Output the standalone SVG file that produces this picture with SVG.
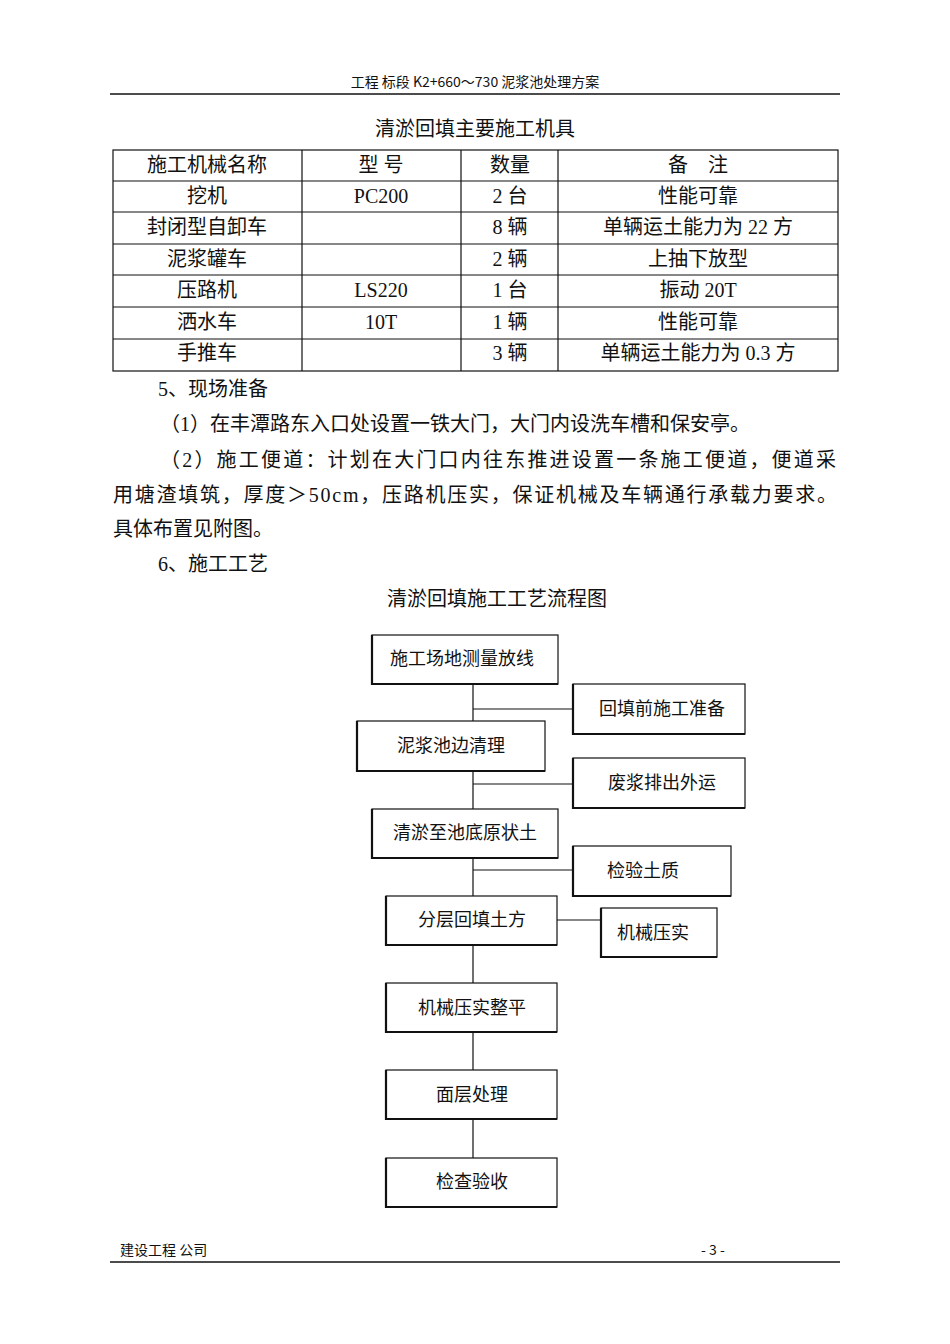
<svg xmlns="http://www.w3.org/2000/svg" width="950" height="1344" viewBox="0 0 950 1344">
<style>
text{font-family:"Liberation Serif","Noto Sans CJK SC",serif;fill:#111}
.t{font-size:20px;text-anchor:middle}
.b{font-size:18px;text-anchor:middle}
.p{font-size:20px}
.h{font-family:"Noto Sans CJK SC",sans-serif;font-size:14px}
.box rect{fill:#fff;stroke:#111;stroke-width:1.2}
.box path{fill:none;stroke:#111;stroke-width:2.2}
.ln{stroke:#111;stroke-width:1.2;fill:none}
</style>
<rect width="950" height="1344" fill="#fff"/>
<text class="h" x="475" y="87" text-anchor="middle">工程 标段 K2+660～730 泥浆池处理方案</text>
<line x1="110" y1="94" x2="840" y2="94" stroke="#111" stroke-width="1.5"/>
<text class="t" x="475" y="136">清淤回填主要施工机具</text>
<g class="ln">
<rect x="113" y="150" width="725" height="221"/>
<path d="M113 181H838M113 212H838M113 244H838M113 275H838M113 307H838M113 339H838M302 150V371M461 150V371M558 150V371"/>
</g>
<g class="t">
<text x="207" y="172">施工机械名称</text><text x="381" y="172">型 号</text><text x="510" y="172">数量</text><text x="698" y="172">备　注</text>
<text x="207" y="203">挖机</text><text x="381" y="203">PC200</text><text x="510" y="203">2 台</text><text x="698" y="203">性能可靠</text>
<text x="207" y="234">封闭型自卸车</text><text x="510" y="234">8 辆</text><text x="698" y="234">单辆运土能力为 22 方</text>
<text x="207" y="266">泥浆罐车</text><text x="510" y="266">2 辆</text><text x="698" y="266">上抽下放型</text>
<text x="207" y="297">压路机</text><text x="381" y="297">LS220</text><text x="510" y="297">1 台</text><text x="698" y="297">振动 20T</text>
<text x="207" y="329">洒水车</text><text x="381" y="329">10T</text><text x="510" y="329">1 辆</text><text x="698" y="329">性能可靠</text>
<text x="207" y="360">手推车</text><text x="510" y="360">3 辆</text><text x="698" y="360">单辆运土能力为 0.3 方</text>
</g>
<text class="p" x="158" y="396">5、现场准备</text>
<text class="p" x="160" y="431">（1）在丰潭路东入口处设置一铁大门，大门内设洗车槽和保安亭。</text>
<text class="p" x="160" y="467" textLength="676">（2）施工便道：计划在大门口内往东推进设置一条施工便道，便道采</text>
<text class="p" x="113" y="502" textLength="724">用塘渣填筑，厚度＞50cm，压路机压实，保证机械及车辆通行承载力要求。</text>
<text class="p" x="113" y="536">具体布置见附图。</text>
<text class="p" x="158" y="571">6、施工工艺</text>
<text class="t" x="497" y="606">清淤回填施工工艺流程图</text>
<g id="connectors" class="ln">
<path d="M473 684V1158M473 709H573M473 784H573M473 870H573M557 920H601"/>
</g>
<g id="n1" class="box"><rect x="372" y="635" width="186" height="49"/><path d="M372 635V684H558"/><text class="b" x="462" y="665">施工场地测量放线</text></g>
<g id="n2" class="box"><rect x="573" y="684" width="172" height="50"/><path d="M573 684V734H745"/><text class="b" x="662" y="715">回填前施工准备</text></g>
<g id="n3" class="box"><rect x="357" y="721" width="188" height="50"/><path d="M357 721V771H545"/><text class="b" x="451" y="752">泥浆池边清理</text></g>
<g id="n4" class="box"><rect x="573" y="758" width="172" height="50"/><path d="M573 758V808H745"/><text class="b" x="662" y="789">废浆排出外运</text></g>
<g id="n5" class="box"><rect x="372" y="809" width="186" height="49"/><path d="M372 809V858H558"/><text class="b" x="465" y="839">清淤至池底原状土</text></g>
<g id="n6" class="box"><rect x="573" y="846" width="158" height="50"/><path d="M573 846V896H731"/><text class="b" x="643" y="877">检验土质</text></g>
<g id="n7" class="box"><rect x="386" y="896" width="171" height="49"/><path d="M386 896V945H557"/><text class="b" x="472" y="926">分层回填土方</text></g>
<g id="n8" class="box"><rect x="601" y="908" width="116" height="49"/><path d="M601 908V957H717"/><text class="b" x="653" y="939">机械压实</text></g>
<g id="n9" class="box"><rect x="386" y="983" width="171" height="49"/><path d="M386 983V1032H557"/><text class="b" x="472" y="1014">机械压实整平</text></g>
<g id="n10" class="box"><rect x="386" y="1070" width="171" height="49"/><path d="M386 1070V1119H557"/><text class="b" x="472" y="1101">面层处理</text></g>
<g id="n11" class="box"><rect x="386" y="1158" width="171" height="49"/><path d="M386 1158V1207H557"/><text class="b" x="472" y="1188">检查验收</text></g>
<text class="h" x="120" y="1255">建设工程 公司</text>
<text class="h" x="713" y="1255" text-anchor="middle">- 3 -</text>
<line x1="110" y1="1262" x2="840" y2="1262" stroke="#111" stroke-width="1.5"/>
</svg>
